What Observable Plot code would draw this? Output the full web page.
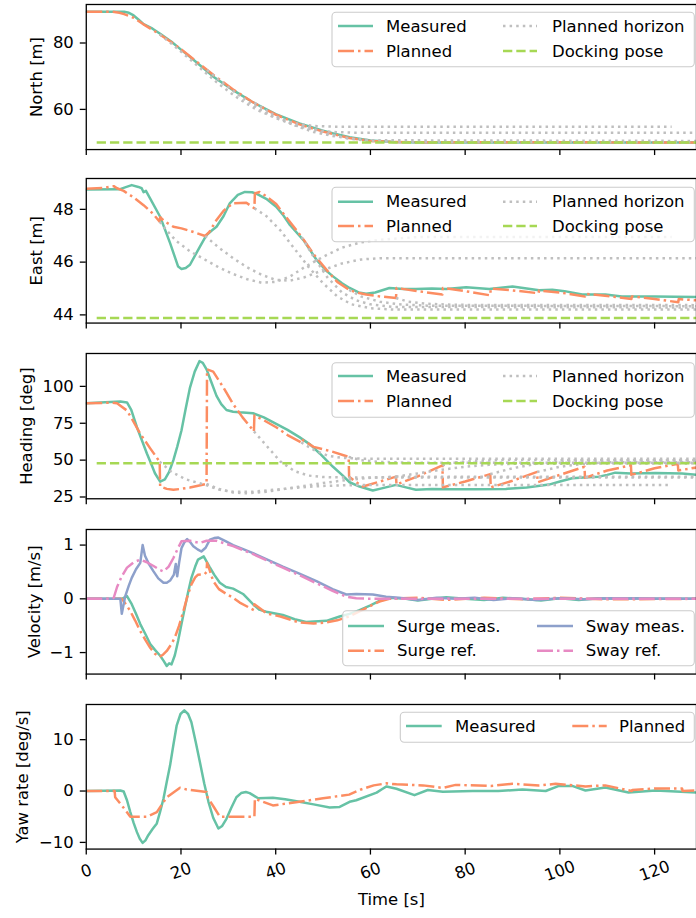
<!DOCTYPE html>
<html><head><meta charset="utf-8">
<script src="https://cdn.jsdelivr.net/npm/d3@7"></script>
<script src="https://cdn.jsdelivr.net/npm/@observablehq/plot@0.6"></script>
<style>
body{margin:0;background:#fff;font-family:"DejaVu Sans",sans-serif;}
#fig{position:relative;width:696px;height:918px;overflow:hidden;background:#fff;}
.panel{position:absolute;left:0;}
</style></head>
<body><div id="fig"></div>
<script>
// ---------- data ----------
const xTicks = [0, 20, 40, 60, 80, 100, 120];

const northMeasured = [[0,89.4],[8,89.4],[9,89.1],[10,88.3],[11,87.1],[12,85.8],[14,84.3],[15.6,82.8],[18,80.4],[20,78.0],[22,75.7],[24,73.3],[27,69.7],[31,65.8],[35,62.3],[40,58.6],[45,55.8],[50,53.6],[52,52.8],[55.6,51.6],[60,50.6],[65,50.2],[70,50.05],[80,50.0],[128.9,50.05]];
const northPlanned = [[0,89.4],[5.5,89.4],[7,89.1],[8,88.7],[10,87.6],[12,85.7],[15.5,82.6],[18,80.2],[20,78.1],[24,73.6],[27,70.2],[31,66.0],[35,62.3],[40,58.4],[45,55.5],[50,53.3],[55.5,51.4],[60,50.5],[65,50.2],[70,50.1],[128.9,50.05]];
const northHorizon1 = [[15.5,82.6],[18,79.8],[20,77.4],[24,72.5],[28,67.6],[32,63.4],[36,59.9],[40,57.4],[44,55.8],[48,55.0],[52,54.8],[123.6,54.8]];
const northHorizon2 = [[25.5,71.9],[28,68.9],[32,64.5],[36,60.6],[40,57.4],[44,55.2],[48,53.9],[52,53.2],[56,53.0],[128.9,53.0]];
const northHorizon3 = [[35.5,62.0],[40,58.0],[44,55.2],[48,53.2],[52,52.0],[56,51.2],[60,50.7],[128.9,50.5]];
const northHorizon4 = [[45.5,55.3],[50,53.0],[55,51.3],[60,50.5],[65,50.2],[128.9,50.1]];
const northDocking = [[2.2,50.0],[128.9,50.0]];

const eastMeasured = [[0,48.75],[7,48.76],[8.5,48.85],[9.6,48.92],[11,48.85],[11.7,48.8],[12.1,48.65],[12.6,48.7],[13.5,48.41],[15.6,47.72],[17.7,46.72],[19.4,45.83],[20.1,45.74],[21,45.78],[21.9,45.9],[24,46.59],[25.4,47.03],[26.5,47.2],[27.5,47.34],[29,47.75],[30.3,48.23],[32,48.55],[33.5,48.66],[35,48.65],[35.9,48.6],[38,48.4],[40.1,48.1],[41.5,47.8],[43,47.41],[46,46.8],[48.6,46.09],[50.5,45.7],[52.1,45.46],[54,45.2],[55.6,45.02],[57.5,44.85],[59.1,44.8],[61,44.85],[64,45.02],[67,44.98],[69.6,44.98],[73,45.0],[76,44.98],[80.2,45.05],[85.1,44.98],[90,45.08],[93,45.0],[95.6,44.93],[98.4,44.95],[101,44.9],[104.7,44.77],[109.6,44.77],[113.1,44.7],[120,44.7],[128.9,44.68]];
const eastPlanned = [[0,48.78],[4,48.82],[5.8,48.88],[6.5,48.8],[7.9,48.7],[10,48.45],[12.1,48.16],[14,47.85],[15.5,47.53],[15.6,47.7],[16.5,47.55],[18.4,47.34],[20.1,47.28],[22,47.18],[25.1,46.99],[26,47.15],[27.5,47.6],[29,47.95],[31,48.23],[33.8,48.25],[35.5,48.04],[35.6,48.6],[36.6,48.66],[38,48.5],[40.1,48.2],[42,47.75],[45.5,46.95],[48,46.3],[51,45.65],[53,45.25],[55.5,44.95],[57,44.85],[59.1,44.77],[62,44.7],[65.4,44.64],[65.5,45.02],[70,44.9],[75.2,44.77],[75.3,45.02],[80,44.9],[85.3,44.74],[85.4,45.0],[90,44.93],[95.5,44.82],[95.6,44.92],[100,44.85],[105.3,44.7],[105.4,44.8],[110,44.72],[115.1,44.6],[115.2,44.7],[120,44.6],[125,44.48],[125.1,44.6],[128.9,44.55]];
const eastHorizon1 = [[15.5,47.53],[17,47.2],[19,46.8],[22,46.4],[25,46.1],[28,45.8],[31,45.55],[34,45.35],[37,45.22],[40,45.25],[43,45.45],[46,45.8],[50,46.2],[54,46.55],[58,46.75],[62,46.85],[70,46.95],[123.6,46.95]];
const eastHorizon2 = [[25.1,46.99],[28,46.55],[31,46.15],[34,45.8],[37,45.52],[40,45.33],[43,45.3],[46,45.42],[50,45.7],[54,45.95],[58,46.1],[62,46.15],[128.9,46.15]];
const eastHorizon3 = [[35.5,48.04],[38,47.75],[41,47.2],[44,46.5],[47,45.8],[50,45.2],[53,44.7],[56,44.4],[60,44.25],[65,44.2],[128.9,44.2]];
const eastHorizon4 = [[45.5,46.95],[48,46.2],[51,45.4],[54,44.85],[57,44.55],[60,44.4],[65,44.3],[128.9,44.28]];
const eastHorizon5 = [[55.5,44.95],[58,44.7],[62,44.5],[66,44.4],[72,44.35],[128.9,44.33]];
const eastHorizon6 = [[65.4,44.64],[68,44.5],[72,44.42],[78,44.38],[128.9,44.37]];
const eastDocking = [[2.2,43.88],[128.9,43.88]];

const headingMeasured = [[0,88.5],[4,89.2],[7.2,89.8],[8.6,89.1],[9.5,84],[10.7,72.3],[11.8,63],[12.8,54.5],[13.7,47.5],[14.5,41.1],[15.6,35.4],[16.6,37],[17.5,42],[18.4,50],[19.2,59],[20.1,70.1],[21,85],[21.9,99.2],[22.9,110],[23.9,117.1],[24.6,116],[25.4,111.5],[26.4,103],[27.5,93.6],[28.5,88],[29.6,84],[31,82.8],[32.4,82.4],[35.2,81.8],[37.5,79],[40.1,74.6],[42.5,70.5],[45,65.6],[47.3,60.5],[49.3,54.5],[51,49],[52.1,45.5],[54,40],[55.6,35],[57.7,32.1],[60.5,29.4],[62.6,31],[65.4,33.2],[67.5,31.5],[69.6,29.9],[73,30.5],[76.6,30.2],[82,30.2],[88.6,30.5],[93,31.5],[97.7,33.4],[100,35.5],[102.6,37.7],[105,38.3],[108.2,38.8],[110,40],[111.7,41.5],[115,41],[120.2,41.2],[125.8,41],[128.9,40]];
const headingPlanned = [[0,88.5],[5.5,89],[6.5,88.5],[8.6,83.6],[10,76],[11.4,67.9],[13.5,58],[15.5,48.9],[15.6,32.1],[17,30.5],[18.4,29.9],[20,30.5],[21.9,31.4],[25.4,33.9],[25.5,111.5],[26.8,110],[29,99],[31,88],[33,79],[35.4,69.5],[35.5,80.2],[37.5,77],[40.1,72.3],[42.5,67],[45.4,62],[45.5,64],[48,59],[52.1,55.6],[55.4,52.2],[55.5,38.8],[57,35],[58.4,32.1],[62,35.5],[65.4,38.8],[65.5,33.5],[70,39],[75.2,46.5],[75.3,31.5],[80,35.5],[85.3,40.5],[85.4,31.5],[90,36],[95.2,42],[95.3,35],[100,40],[105.2,45.5],[105.3,38],[110,43],[115,46.5],[115.1,40],[120,44.5],[124.9,47.5],[125,43],[128.9,45]];
const headingHorizon1 = [[15.5,48.9],[18,42],[21,37],[25.4,33],[28,30],[31,28.5],[35,28.5],[40,30],[45,31.5],[50,32.5],[55,33],[60,33.2],[123.6,33.2]];
const headingHorizon2 = [[25.4,33.9],[28,30.5],[31,28],[34,27.5],[38,28.5],[42,30.5],[46,32.5],[50,34.5],[55,36.5],[60,38],[65,38.8],[128.9,38.8]];
const headingHorizon3 = [[35.4,69.5],[38,60],[41,49],[44,42.5],[47,39.5],[50,38.5],[55,38.2],[128.9,38.2]];
const headingHorizon4 = [[45.4,62],[48,57],[51,53],[54,51.5],[58,51],[128.9,51]];
const headingHorizon5 = [[55.4,52.2],[58,50],[62,48.8],[68,48.3],[128.9,48.3]];
const headingHorizon6 = [[65.4,38.8],[70,41],[75,43.5],[80,45.5],[85,46.8],[90,47.5],[128.9,47.8]];
const headingHorizon7 = [[75.2,46.5],[78,48.5],[82,49.5],[88,50],[128.9,50]];
const headingHorizon8 = [[85.3,40.5],[90,44.5],[95,47.5],[100,49],[105,49.5],[128.9,49.5]];
const headingHorizon9 = [[95.2,42],[100,45.5],[105,47.5],[110,48.5],[128.9,48.5]];
const headingDocking = [[2.2,47.8],[128.9,47.8]];

const surgeMeasured = [[0,0],[7.5,0],[8.6,0.05],[9.6,-0.1],[10.5,-0.28],[11.4,-0.47],[12.5,-0.66],[13.5,-0.84],[14.5,-0.95],[15.6,-1.06],[16.3,-1.15],[17,-1.25],[17.5,-1.2],[18,-1.22],[18.7,-1.05],[19.4,-0.78],[20.1,-0.47],[20.8,-0.17],[21.5,0.12],[22.2,0.39],[23,0.6],[23.6,0.73],[24.8,0.79],[26,0.6],[27,0.45],[28.2,0.3],[29.5,0.22],[31,0.19],[33.1,0.09],[35.2,-0.1],[36.5,-0.2],[38,-0.24],[41.5,-0.3],[44,-0.38],[46.4,-0.43],[50.7,-0.41],[53.5,-0.33],[55.6,-0.28],[57.7,-0.21],[60,-0.12],[61.9,-0.04],[64,0.02],[67.5,0],[70,-0.03],[73,0.0],[76,0.03],[80,0.0],[84,-0.02],[88,0.02],[92,0],[96,-0.03],[100,0.01],[104,-0.02],[108,0.01],[112,0],[116,0.01],[120,0],[128.9,0]];
const surgeReference = [[0,0],[7.5,0],[8.5,-0.12],[9.3,-0.23],[10.3,-0.4],[11.4,-0.6],[12.5,-0.77],[13.5,-0.91],[14.5,-1.02],[15.4,-1.08],[16.2,-1.04],[17,-0.97],[18,-0.84],[18.7,-0.72],[19.6,-0.5],[20.5,-0.23],[21.3,0.03],[22.2,0.27],[23,0.4],[23.6,0.45],[25,0.46],[25.4,0.5],[25.5,0.67],[26,0.55],[26.8,0.33],[28,0.18],[29.6,0.09],[31,0.02],[32.4,-0.07],[35.4,-0.21],[35.5,-0.1],[37,-0.2],[38,-0.27],[41,-0.33],[45,-0.44],[48,-0.46],[50.7,-0.44],[53,-0.4],[55.5,-0.33],[58,-0.22],[61.9,-0.05],[64,0.0],[70,0.02],[76,-0.02],[84,0.02],[92,-0.01],[100,0.02],[110,-0.01],[128.9,0.0]];
const swayMeasured = [[0,0],[7.2,0],[7.5,-0.28],[8.2,0.04],[9,0.25],[9.6,0.39],[10.5,0.55],[11.4,0.67],[11.9,1.0],[12.4,0.8],[13.2,0.65],[14.2,0.51],[15.2,0.38],[16.3,0.3],[17,0.3],[17.7,0.34],[18.5,0.45],[18.9,0.65],[19.2,0.42],[19.6,0.67],[20.1,0.94],[20.7,1.05],[21.3,1.11],[22,1.05],[22.6,0.98],[23.5,0.92],[24.3,0.88],[25.2,0.95],[26.1,1.1],[27,1.13],[27.9,1.14],[29.5,1.07],[31,1.0],[33,0.93],[35.2,0.85],[38,0.74],[41.5,0.6],[45,0.47],[48.6,0.33],[52,0.18],[54.9,0.08],[57,0.09],[60.5,0.08],[63.3,0.04],[66,0.02],[70,-0.02],[74,0.02],[78,0],[82,0.02],[86,-0.02],[90,0.01],[95,-0.02],[100,0.01],[105,-0.01],[110,0.01],[128.9,0]];
const swayReference = [[0,0],[5.5,0],[5.8,0.02],[6.5,0.22],[7.5,0.42],[8.6,0.58],[10,0.68],[11.4,0.73],[12.8,0.68],[14.2,0.61],[15.5,0.54],[16.3,0.51],[17.4,0.6],[18.4,0.76],[19.3,0.93],[20.1,1.07],[21.9,1.08],[24,1.04],[25.4,1.08],[27.5,1.08],[31,0.98],[35,0.84],[38,0.72],[41.5,0.58],[45,0.44],[48.6,0.29],[52,0.15],[54.9,0.04],[57,0.01],[60,0],[128.9,0]];

const yawMeasured = [[0,0],[7.2,0.1],[7.9,-0.1],[8.6,-1.8],[9.3,-4.1],[10,-6.2],[10.7,-8.0],[11.3,-9.3],[11.9,-10.1],[12.5,-9.6],[13.1,-8.6],[14,-7.4],[14.9,-6.3],[15.6,-4.0],[16.3,-1.5],[17,1.8],[17.7,5.0],[18.4,9],[19.1,12.8],[19.9,15.0],[20.7,15.7],[21.5,15.0],[22.2,13.4],[23.1,9.6],[24,5.6],[24.9,1.5],[25.8,-2.1],[26.8,-5.2],[27.9,-7.3],[28.7,-6.8],[29.6,-5.4],[30.6,-3.3],[31.7,-1.2],[32.7,-0.4],[33.7,-0.2],[34.5,-0.4],[35.2,-0.8],[36.3,-1.4],[39.4,-1.3],[42,-1.6],[45,-2.1],[48,-2.6],[51.4,-3.2],[53.5,-3.1],[55.6,-2.1],[57,-1.8],[61.3,-0.3],[62.5,0.4],[63.4,0.9],[65.5,0.45],[69.3,-0.8],[72.1,0.2],[75.3,-0.15],[81.6,0],[87,0],[92.1,0.3],[97,0],[99.8,1.0],[102.6,1.0],[105.4,0.1],[109.6,0.7],[114.5,-0.3],[120.2,0.1],[128.9,-0.3]];
const yawPlanned = [[0,0],[6,0],[6.1,-1.2],[7.5,-2.8],[9.3,-5.0],[12.8,-5.0],[14.9,-4.1],[17,-1.2],[19.8,0.65],[21.2,0.3],[25.4,-0.2],[25.6,-1.2],[27,-3.2],[28.2,-5.0],[35.5,-5.0],[35.6,-1.5],[37.3,-2.1],[39.4,-2.8],[45,-2.1],[50,-1.4],[55.5,-0.7],[58,0.3],[60.7,1.1],[63.4,1.5],[65.5,1.3],[71.1,1.1],[75.3,0.6],[78,1.2],[85.4,1.0],[90,1.4],[95.6,1.1],[99.1,1.4],[105.4,0.9],[109.6,1.1],[115.2,0.0],[115.3,0.2],[120.2,0.5],[125.8,0.5],[125.9,0.0],[128.9,0.1]];

// ---------- styles ----------
const GREEN="#66c2a5", ORANGE="#fc8d62", BLUE="#8da0cb", PINK="#e78ac3", LIME="#a6d854", GRAY="#bfbfbf";
const DASHDOT="16,4,2.5,4", DOTTED="2.5,4.1", DASHED="9.3,4";
const LW = 2.5, FS = 16.5;
const XMAX = 612 / 4.75;
const fmt = d => (d < 0 ? "\u2212" : "") + Math.abs(d);

const fig = document.getElementById("fig");

function panel(cfg) {
  const {top, h, domain, ticks, label, labelX, lines, last} = cfg;
  const mt = 2, mb = last ? 70 : 12;
  const marks = [];
  for (const s of lines) {
    marks.push(Plot.line(s.data, {x: d => d[0], y: d => d[1], stroke: s.color, strokeWidth: LW,
      strokeDasharray: s.dash || null, strokeLinecap: s.dash ? "butt" : "round", strokeLinejoin: "round", clip: true}));
  }
  marks.push(Plot.frame({stroke: "black", strokeWidth: 1.3}));
  marks.push(Plot.axisY({ticks, tickSize: 6, tickPadding: 6.5, fontSize: FS, label: null, strokeWidth: 1.3, tickFormat: fmt}));
  if (last) {
    marks.push(Plot.axisX({ticks: xTicks, tickSize: 6, strokeWidth: 1.3, tickRotate: -20, textAnchor: "middle", lineAnchor: "middle", tickPadding: 16, fontSize: FS, label: null, tickFormat: fmt}));
    marks.push(Plot.text(["Time [s]"], {text: d => d, frameAnchor: "bottom", dy: 51, fontSize: FS, lineAnchor: "middle", textAnchor: "middle"}));
  } else {
    marks.push(Plot.axisX({ticks: xTicks, tickSize: 6, strokeWidth: 1.3, tickFormat: () => "", label: null}));
  }
  marks.push(Plot.text([label], {text: d => d, frameAnchor: "left", dx: labelX - 86, rotate: -90, fontSize: FS, textAnchor: "middle", lineAnchor: "middle"}));
  const p = Plot.plot({
    width: 698, height: mt + h + mb,
    marginLeft: 86, marginRight: 0, marginTop: mt, marginBottom: mb,
    x: {domain: [0, XMAX]}, y: {domain},
    style: {fontFamily: "DejaVu Sans", fontSize: FS + "px", background: "transparent", overflow: "visible", color: "black"},
    marks
  });
  const div = document.createElement("div");
  div.className = "panel";
  div.style.top = (top - mt) + "px";
  div.appendChild(p);
  fig.appendChild(div);
}

const poseLines = (m, p, hs, dock) => [
  {data: m, color: GREEN}, {data: p, color: ORANGE, dash: DASHDOT},
  ...hs.map(d => ({data: d, color: GRAY, dash: DOTTED})),
  {data: dock, color: LIME, dash: DASHED}
];

panel({top: 4, h: 145.5, domain: [47.9, 91.6], ticks: [60, 80], label: "North [m]", labelX: 36,
  lines: poseLines(northMeasured, northPlanned, [northHorizon1, northHorizon2, northHorizon3, northHorizon4], northDocking)});
panel({top: 178.3, h: 145, domain: [43.69, 49.17], ticks: [44, 46, 48], label: "East [m]", labelX: 36,
  lines: poseLines(eastMeasured, eastPlanned, [eastHorizon1, eastHorizon2, eastHorizon3, eastHorizon4, eastHorizon5, eastHorizon6], eastDocking)});
panel({top: 353.3, h: 145.7, domain: [23.8, 122.3], ticks: [25, 50, 75, 100], label: "Heading [deg]", labelX: 26,
  lines: poseLines(headingMeasured, headingPlanned, [headingHorizon1, headingHorizon2, headingHorizon3, headingHorizon4, headingHorizon5, headingHorizon6, headingHorizon7, headingHorizon8, headingHorizon9], headingDocking)});
panel({top: 529, h: 145, domain: [-1.40, 1.29], ticks: [-1, 0, 1], label: "Velocity [m/s]", labelX: 34,
  lines: [{data: surgeMeasured, color: GREEN}, {data: surgeReference, color: ORANGE, dash: DASHDOT},
          {data: swayMeasured, color: BLUE}, {data: swayReference, color: PINK, dash: DASHDOT}]});
panel({top: 704, h: 145, domain: [-11.3, 16.85], ticks: [-10, 0, 10], label: "Yaw rate [deg/s]", labelX: 22.5, last: true,
  lines: [{data: yawMeasured, color: GREEN}, {data: yawPlanned, color: ORANGE, dash: DASHDOT}]});

// ---------- legends ----------
const ov = d3.select(fig).append("svg").attr("width", 696).attr("height", 918)
  .style("position", "absolute").style("left", 0).style("top", 0)
  .style("font-family", "DejaVu Sans").style("font-size", FS + "px");

function legend(box, items) {
  ov.append("rect").attr("x", box[0]).attr("y", box[1]).attr("width", box[2] - box[0]).attr("height", box[3] - box[1])
    .attr("rx", 4).attr("fill", "white").attr("fill-opacity", 0.8).attr("stroke", "#cccccc").attr("stroke-width", 1.1);
  for (const it of items) {
    ov.append("line").attr("x1", it[0]).attr("x2", it[1]).attr("y1", it[3]).attr("y2", it[3])
      .attr("stroke", it[4]).attr("stroke-width", LW).attr("stroke-dasharray", it[5] || null).attr("stroke-linecap", "butt");
    ov.append("text").attr("x", it[2]).attr("y", it[3]).attr("dominant-baseline", "central").attr("fill", "black").text(it[6]);
  }
}
function poseLegend(top, bottom, r1, r2) {
  legend([332, top, 694.3, bottom], [
    [338, 373, 386, r1, GREEN, null, "Measured"],
    [338, 373, 386, r2, ORANGE, DASHDOT, "Planned"],
    [503, 537, 552, r1, GRAY, DOTTED, "Planned horizon"],
    [503, 537, 552, r2, LIME, DASHED, "Docking pose"]
  ]);
}
poseLegend(12.3, 66.7, 26, 51);
poseLegend(187.3, 241.7, 201.7, 226);
poseLegend(362.7, 417.3, 376, 401);
legend([342.7, 610.7, 694.3, 665.7], [
  [348, 384, 397, 626, GREEN, null, "Surge meas."],
  [348, 384, 397, 650.7, ORANGE, DASHDOT, "Surge ref."],
  [537, 573, 585.7, 626, BLUE, null, "Sway meas."],
  [537, 573, 585.7, 650.7, PINK, DASHDOT, "Sway ref."]
]);
legend([400.3, 712.3, 694.3, 742.3], [
  [406, 441.7, 455, 726, GREEN, null, "Measured"],
  [572.3, 606.7, 619, 726, ORANGE, DASHDOT, "Planned"]
]);
</script>
</body></html>
